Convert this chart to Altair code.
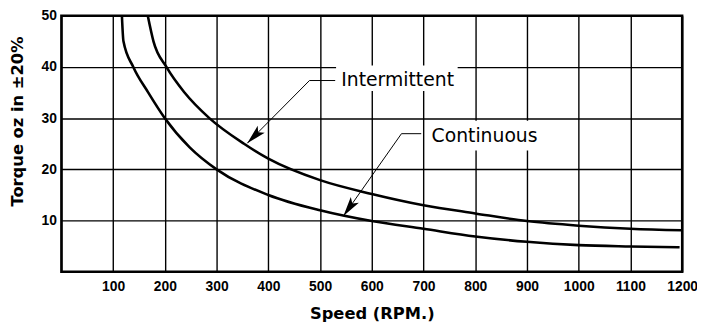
import altair as alt
import pandas as pd

# Continuous torque curve (lower)
cont_rpm = [117, 120, 139, 168, 200, 248, 300, 400, 500, 600, 700, 800, 900, 1000, 1100, 1195]
cont_torque = [50, 45, 40, 35, 30, 24.3, 20, 15, 12.0, 9.9, 8.4, 6.9, 5.85, 5.2, 4.95, 4.8]

# Intermittent torque curve (upper)
int_rpm = [167, 178, 203, 238, 286, 353, 400, 500, 600, 700, 800, 900, 1000, 1100, 1200]
int_torque = [50, 45, 40, 35, 30, 25, 22.1, 17.9, 15.2, 13.0, 11.4, 9.9, 9.0, 8.4, 8.1]

x_ticks = list(range(0, 1300, 100))
y_ticks = list(range(0, 55, 5))

# Annotations
label_names = ["Intermittent", "Continuous"]
label_x = [650, 818]
label_y = [37.5, 26.5]
box_x = [531, 707]
box_x2 = [766, 938]
box_y = [40.3, 29.5]
box_y2 = [35.3, 23.7]
leader_group = ["Intermittent"] * 3 + ["Continuous"] * 3
leader_order = [0, 1, 2, 0, 1, 2]
leader_x = [529.3, 479.6, 359.3, 695.6, 657.4, 545.2]
leader_y = [37.35, 37.35, 25.1, 26.97, 26.97, 10.87]
arrow_x = [359.3, 545.2]
arrow_y = [25.1, 10.87]
arrow_angle = [224.8, 215.2]

curves = pd.DataFrame({
    "rpm": cont_rpm + int_rpm,
    "torque": cont_torque + int_torque,
    "series": ["Continuous"] * len(cont_rpm) + ["Intermittent"] * len(int_rpm),
})
labels = pd.DataFrame({"name": label_names, "x": label_x, "y": label_y,
                       "bx": box_x, "bx2": box_x2, "by": box_y, "by2": box_y2})
leaders = pd.DataFrame({"g": leader_group, "o": leader_order, "x": leader_x, "y": leader_y})
arrows = pd.DataFrame({"x": arrow_x, "y": arrow_y, "a": arrow_angle})

xs = alt.Scale(domain=[0, 1200], nice=False, zero=False)
ys = alt.Scale(domain=[0, 50], nice=False, zero=False)

x_axis = alt.Axis(
    values=x_ticks, format="d", grid=True, gridColor="black", gridWidth=1.4, gridOpacity=1,
    ticks=False, domain=False, labelFlush=False, labelOverlap=False,
    labelExpr="datum.value == 0 ? '' : datum.label",
    labelFont="Liberation Sans", labelFontWeight="bold", labelFontSize=14,
    labelColor="black", labelPadding=8,
    title="Speed (RPM.)", titleFont="DejaVu Sans", titleFontSize=16.5,
    titleFontWeight="bold", titleColor="black", titleY=42, titleBaseline="middle",
)
y_axis = alt.Axis(
    values=y_ticks, format="d", grid=True, gridColor="black", gridWidth=1.4, gridOpacity=1,
    ticks=False, domain=False, labelFlush=False, labelOverlap=False,
    labelExpr="datum.value % 10 == 0 && datum.value > 0 ? datum.label : ''",
    labelFont="Liberation Sans", labelFontWeight="bold", labelFontSize=14,
    labelColor="black", labelPadding=5,
    title="Torque oz in ±20%", titleFont="DejaVu Sans", titleFontSize=16.5,
    titleFontWeight="bold", titleColor="black", titleAngle=270,
    titleX=-44.5, titleY=106.5, titleAlign="center", titleBaseline="middle",
)

lines = alt.Chart(curves).mark_line(color="black", strokeWidth=2.6, interpolate="monotone").encode(
    x=alt.X("rpm:Q", scale=xs, axis=x_axis),
    y=alt.Y("torque:Q", scale=ys, axis=y_axis),
    detail="series:N",
)

boxes = alt.Chart(labels).mark_rect(fill="white").encode(
    x=alt.X("bx:Q", scale=xs), x2="bx2:Q",
    y=alt.Y("by:Q", scale=ys), y2="by2:Q",
)

leader_lines = alt.Chart(leaders).mark_line(color="black", strokeWidth=1).encode(
    x=alt.X("x:Q", scale=xs), y=alt.Y("y:Q", scale=ys),
    detail="g:N", order="o:Q",
)

arrow_path = "M0,0 L0.4,1.6 L0,1.25 L-0.4,1.6 Z"
arrow_heads = alt.Chart(arrows).mark_point(
    shape=arrow_path, filled=True, color="black", opacity=1, size=625, strokeWidth=0
).encode(
    x=alt.X("x:Q", scale=xs), y=alt.Y("y:Q", scale=ys),
    angle=alt.Angle("a:Q", scale=None),
)

texts = alt.Chart(labels).mark_text(
    font="DejaVu Sans", fontSize=19, color="black", align="center", baseline="middle"
).encode(
    x=alt.X("x:Q", scale=xs), y=alt.Y("y:Q", scale=ys), text="name:N",
)

chart = alt.layer(lines, boxes, leader_lines, arrow_heads, texts).properties(
    width=628, height=259,
    autosize=alt.AutoSizeParams(type="none"),
    padding={"left": 54, "top": 6, "right": 15, "bottom": 53},
).configure_view(stroke="black", strokeWidth=2.5)

chart.save("out.html", embed_options={"renderer": "svg", "actions": False})
